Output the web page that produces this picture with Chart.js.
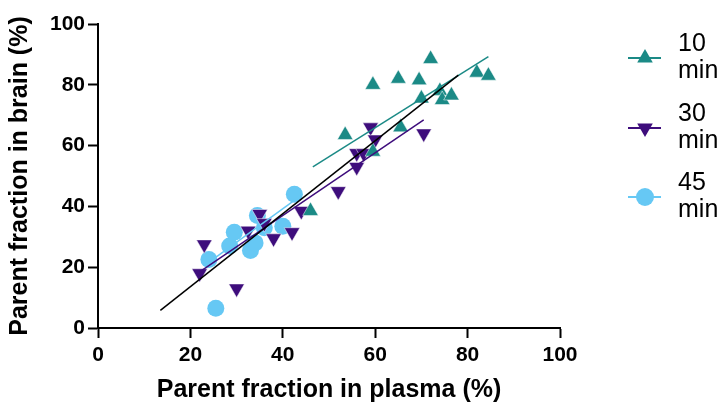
<!DOCTYPE html>
<html>
<head>
<meta charset="utf-8">
<script src="https://cdn.jsdelivr.net/npm/chart.js@4"></script>
<style>
  html, body { margin: 0; padding: 0; background: #fff; }
  #wrap { width: 719px; height: 409px; }
</style>
</head>
<body>
<div id="wrap"><canvas id="chart" width="719" height="409"></canvas></div>
<script>
// 10 min
const plasma10 = [46, 53.5, 59.5, 59.5, 65, 65.5, 69.5, 70, 72, 74, 74.5, 76.5, 82, 84.5];
const brain10  = [38.5, 63.5, 80, 58, 82, 66, 81.5, 75.5, 88.5, 78, 75, 76.5, 84, 83];
// 30 min
const plasma30 = [22, 23, 30, 32.5, 35, 36, 38, 42, 44, 52, 56, 56, 57.5, 59, 60, 70.5];
const brain30  = [18, 27.5, 13, 32, 37.5, 34.5, 29.5, 31.5, 38.5, 45, 53, 57.5, 57.5, 66, 62, 64];
// 45 min
const plasma45 = [24, 25.5, 28.5, 29.5, 33, 34, 34.5, 36, 40, 42.5];
const brain45  = [22.5, 6.5, 27, 31.5, 25.5, 28, 37, 33, 33.5, 44];

// fitted lines (end points)
const fit10X = [46.5, 84.5],  fit10Y = [53, 89.3];
const fit30X = [22, 70.5],    fit30Y = [18.5, 68.5];
const fit45X = [23, 42.5],    fit45Y = [20.5, 42];
const fitAllX = [13.5, 78],   fitAllY = [5.8, 83.2];

const ticks = [0, 20, 40, 60, 80, 100];
const seriesNames = [['10', 'min'], ['30', 'min'], ['45', 'min']];

const teal = '#1b8a86';
const purple = '#3e0d7c';
const sky = '#66c8f4';

const pts = (xs, ys) => xs.map((x, i) => ({ x, y: ys[i] }));
const font = 'Liberation Sans, Arial, sans-serif';

const lineSet = (xs, ys, color, w) => ({
  data: pts(xs, ys), showLine: true, borderColor: color, borderWidth: w,
  pointRadius: 0, fill: false
});

const legendItems = [
  { name: seriesNames[0], color: teal, style: 'triangle', rot: 0, r: 9 },
  { name: seriesNames[1], color: purple, style: 'triangle', rot: 180, r: 9 },
  { name: seriesNames[2], color: sky, style: 'circle', rot: 0, r: 9 }
];

const sideLegend = {
  id: 'sideLegend',
  afterDraw(chart) {
    const ctx = chart.ctx;
    const rows = [58, 128, 197];
    ctx.save();
    legendItems.forEach((it, i) => {
      const y = rows[i];
      ctx.strokeStyle = it.color;
      ctx.lineWidth = 2;
      ctx.beginPath();
      ctx.moveTo(628, y);
      ctx.lineTo(661, y);
      ctx.stroke();
      ctx.fillStyle = it.color;
      Chart.helpers.drawPoint(ctx, {
        pointStyle: it.style, rotation: it.rot, radius: it.r, borderWidth: 0
      }, 645, y);
      ctx.fillStyle = '#000';
      ctx.font = '25px ' + font;
      ctx.textBaseline = 'middle';
      ctx.textAlign = 'left';
      ctx.fillText(it.name[0], 678, y - 14);
      ctx.fillText(it.name[1], 678, y + 13);
    });
    ctx.restore();
  }
};

new Chart(document.getElementById('chart'), {
  type: 'scatter',
  data: {
    datasets: [
      lineSet(fitAllX, fitAllY, '#000', 1.5),
      lineSet(fit30X, fit30Y, purple, 1.5),
      lineSet(fit45X, fit45Y, sky, 1.5),
      lineSet(fit10X, fit10Y, teal, 1.5),
      { data: pts(plasma10, brain10), pointStyle: 'triangle', pointRadius: 9,
        backgroundColor: teal, borderColor: '#fff', borderWidth: 0.5 },
      { data: pts(plasma30, brain30), pointStyle: 'triangle', rotation: 180, pointRadius: 9,
        backgroundColor: purple, borderColor: '#fff', borderWidth: 0.5 },
      { data: pts(plasma45, brain45), pointStyle: 'circle', pointRadius: 8.5,
        backgroundColor: sky, borderColor: sky, borderWidth: 0 }
    ]
  },
  options: {
    responsive: false,
    animation: false,
    layout: { padding: { left: 0, right: 159, top: 24, bottom: 0 } },
    plugins: { legend: { display: false }, tooltip: { enabled: false } },
    scales: {
      x: {
        min: 0, max: 100,
        afterFit: s => { s.height = 81; },
        afterBuildTicks: s => { s.ticks = ticks.map(v => ({ value: v })); },
        grid: { drawOnChartArea: false, drawTicks: true, tickLength: 10, tickWidth: 2, color: '#000' },
        border: { color: '#000', width: 2 },
        ticks: { color: '#000', padding: 5, maxRotation: 0, font: { family: font, size: 21, weight: 'bold' } },
        title: { display: true, text: 'Parent fraction in plasma (%)', color: '#000',
          padding: { top: 5 }, font: { family: font, size: 25, weight: 'bold' } }
      },
      y: {
        min: 0, max: 100,
        afterFit: s => { s.width = 98; },
        afterBuildTicks: s => { s.ticks = ticks.map(v => ({ value: v })); },
        grid: { drawOnChartArea: false, drawTicks: true, tickLength: 10, tickWidth: 2, color: '#000' },
        border: { color: '#000', width: 2 },
        ticks: { color: '#000', padding: 3, font: { family: font, size: 21, weight: 'bold' } },
        title: { display: true, text: 'Parent fraction in brain (%)', color: '#000',
          padding: { top: 5, bottom: 4 }, font: { family: font, size: 25, weight: 'bold' } }
      }
    }
  },
  plugins: [sideLegend]
});
</script>
</body>
</html>
